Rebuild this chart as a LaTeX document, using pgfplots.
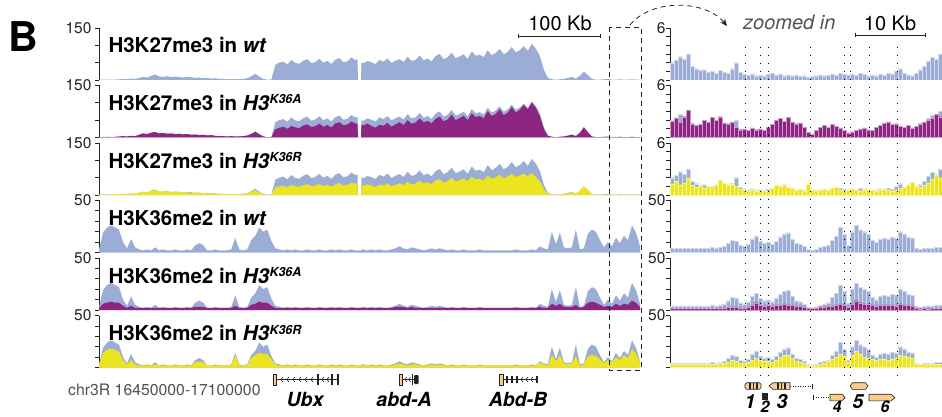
\documentclass[border=0pt]{standalone}
\usepackage{fontspec}
\setmainfont{TeX Gyre Heros}
\usepackage{pgfplots}
\usepackage{pgfplotstable}
\pgfplotsset{compat=1.18}
\usetikzlibrary{arrows.meta}
\definecolor{wtc}{RGB}{155,172,213}
\definecolor{kac}{RGB}{140,38,130}
\definecolor{krc}{RGB}{236,228,30}
\definecolor{genec}{RGB}{250,205,140}
\definecolor{axc}{RGB}{35,35,35}
\definecolor{txtgray}{RGB}{80,80,80}

% left: genomic tracks (x = position offset, a..c H3K27me3 wt/K36A/K36R, d..f H3K36me2 wt/K36A/K36R)
\pgfplotstableread{
x a b c d e f
0 1 1 1 3 2 3
4 1 1 1 19 6 14
8 1 2 1 24 7 17
12 1 1 2 26 8 18
16 1 2 2 24 7 17
20 2 3 3 22 7 15
24 3 4 4 10 4 7
28 2 3 3 4 2 3
32 4 5 4 13 4 7
36 3 4 4 5 2 3
40 6 8 7 3 2 2
44 9 12 10 2 2 2
48 7 10 8 3 2 2
52 12 14 12 2 2 2
56 16 16 14 5 2 3
60 10 12 10 2 2 2
64 9 13 11 3 2 2
68 11 11 9 2 2 2
72 8 12 10 2 2 2
76 10 10 8 3 2 2
80 9 11 9 2 2 2
84 7 9 7 2 2 2
88 9 10 8 3 2 2
92 8 8 6 2 2 2
96 6 9 7 7 3 5
100 7 7 5 9 3 6
104 5 8 6 7 3 5
108 6 6 4 2 2 2
112 4 7 5 2 2 2
116 5 5 4 3 2 2
120 3 4 3 2 2 2
124 3 4 3 2 2 2
128 2 3 2 2 2 2
132 3 4 3 3 2 2
136 2 3 2 14 4 12
140 3 3 3 3 2 2
144 3 4 3 2 2 2
148 5 6 5 3 2 2
152 11 10 9 12 5 9
156 18 16 14 16 6 12
160 10 9 8 24 8 14
164 3 3 2 20 7 13
168 1 1 1 22 7 13
172 1 1 1 11 4 8
176 44 24 22 4 2 3
180 50 28 25 3 2 2
184 53 31 27 2 2 2
188 45 25 22 3 2 2
192 58 33 29 2 2 2
196 49 29 25 3 2 2
200 47 27 24 2 2 2
204 56 35 28 2 2 2
208 60 38 31 3 2 2
212 48 30 25 2 2 2
216 52 33 27 2 2 2
220 61 40 32 3 2 2
224 50 31 26 2 2 2
228 55 36 29 2 2 2
232 46 29 24 3 2 2
236 59 41 31 2 2 2
240 63 44 34 3 2 2
244 51 35 27 2 2 2
248 54 38 29 2 2 2
252 65 46 35 3 2 2
256 57 40 33 2 2 2
258 60 41 34 2 2 2
258.5 0 0 0 2 2 2
261.5 0 0 0 2 2 2
262 50 37 29 3 2 2
264 48 35 27 3 2 2
268 55 40 31 2 2 2
272 51 33 27 3 2 2
276 46 28 23 2 2 2
280 58 37 30 3 2 2
284 53 34 27 2 2 2
288 62 42 33 2 2 2
292 49 31 25 3 2 2
296 56 38 29 4 3 3
300 60 44 34 6 3 4
304 52 36 28 4 3 3
308 67 50 38 3 2 2
312 55 40 30 5 3 3
316 58 43 33 4 2 3
320 71 55 41 3 2 2
324 57 44 33 2 2 2
328 62 48 37 3 2 2
332 54 41 31 4 2 3
336 69 54 42 3 2 2
340 75 60 46 4 2 3
344 60 47 36 3 2 2
348 66 52 40 2 2 2
352 79 66 50 3 2 2
356 63 50 38 2 2 2
360 68 56 43 2 2 2
364 74 63 48 3 2 2
368 61 50 39 2 2 2
372 82 70 53 2 2 2
376 70 59 45 2 2 2
380 73 62 47 3 2 2
384 66 55 42 2 2 2
388 86 76 56 2 2 2
392 72 62 47 2 2 2
396 78 68 51 2 2 2
400 90 82 59 2 2 2
404 74 64 48 2 2 2
408 81 72 53 2 2 2
412 95 88 61 2 2 2
416 80 72 52 3 2 2
420 86 80 56 2 2 2
424 98 94 62 2 2 2
428 84 82 54 2 2 2
432 104 101 63 3 2 2
436 90 86 52 2 2 2
440 70 62 40 6 3 5
444 30 25 18 4 2 3
448 6 5 4 3 2 2
452 2 2 2 20 6 12
456 1 1 1 8 4 6
460 2 2 2 19 6 12
464 3 3 3 5 3 4
468 6 5 5 4 3 3
472 9 8 8 5 3 4
476 4 4 4 22 5 11
480 12 14 12 3 2 2
484 24 30 26 4 3 3
488 14 15 13 18 7 11
492 3 3 3 22 8 12
496 1 1 1 20 7 11
500 1 1 1 12 5 8
504 2 2 1 5 3 4
508 3 2 2 10 4 7
512 1 1 1 6 3 5
516 1 1 1 14 6 10
520 2 2 1 9 4 7
524 1 1 1 16 6 12
528 1 1 1 12 5 9
532 2 2 1 26 9 18
536 1 1 1 19 7 13
540 1 1 1 6 3 5
}\leftdata

% right: zoomed-in bins
\pgfplotstableread{
x a b c d e f
0 2.0 1.9 1.3 4 1.5 3
4 2.3 2.2 1.6 4 1.5 3
8 2.7 1.8 1.2 4 1.8 3
12 2.4 2.4 1.4 4 1.6 3
16 3.0 3.2 1.9 4 1.5 3
20 1.6 1.6 1.1 4 1.7 3
24 1.3 1.4 0.9 4 1.5 3
28 1.1 1.5 1.0 4 1.6 3
32 1.2 2.0 0.8 4 1.5 3
36 0.9 1.8 1.0 4 1.8 3
40 1.0 2.3 0.9 5 1.6 3
44 0.8 2.0 1.2 4 1.5 3
48 1.1 2.4 1.7 5 2.0 4
52 0.9 1.7 1.4 6 2.0 4
56 0.8 1.6 1.2 9 2.5 5
60 1.3 1.8 1.3 12 3 7
64 2.0 1.2 1.0 11 3 6
68 0.9 0.9 0.7 7 2 4
72 0.7 1.0 0.6 6 2 4
76 0.6 0.8 0.5 8 3 5
80 0.7 1.1 0.6 13 5 7
84 0.5 0.9 0.5 16 7 9
88 0.6 1.0 0.4 11 5 7
92 0.5 0.8 0.5 9 4 6
96 0.7 1.2 0.4 10 5 6
100 0.8 1.5 0.8 8 4 5
104 0.6 2.0 1.1 11 5 7
108 0.7 2.2 1.0 15 5 10
112 0.5 1.9 1.2 18 6 12
116 0.6 2.3 0.9 19 5 12
120 0.5 1.8 0.8 13 5 9
124 0.6 1.6 0.6 9 4 6
128 0.4 1.7 0.7 8 4 5
132 0.5 1.2 0.5 6 3 4
136 0.3 0.6 1.3 3 1.5 2
140 0.4 0.4 0.6 2 1.5 1.5
144 0.5 0.8 0.5 3 2 2
148 0.6 1.2 0.6 5 3 3
152 0.5 1.4 0.7 6 3 4
156 0.6 1.2 0.6 7 4 6
160 0.7 1.5 0.8 12 4 8
164 0.6 1.3 0.9 16 5 10
168 0.8 1.1 0.6 24 6 13
172 0.7 0.8 0.5 18 5 11
176 0.6 0.5 0.6 7 3 5
180 0.7 0.6 0.7 20 6 12
184 0.6 0.8 0.6 26 9 16
188 0.8 1.0 0.5 22 7 13
192 0.7 1.1 0.6 20 6 10
196 0.5 0.9 0.7 18 6 9
200 0.6 0.8 0.6 12 5 8
204 0.5 1.2 0.5 10 4 7
208 0.7 1.4 0.6 13 5 8
212 0.6 1.7 0.7 14 5 8
216 0.8 1.8 0.6 13 5 7
220 0.7 1.5 0.5 15 5 8
224 1.0 1.6 0.6 14 4 9
228 1.3 1.3 0.8 20 6 12
232 0.8 1.2 0.9 18 5 11
236 0.6 1.4 1.2 15 5 10
240 0.5 1.1 1.5 14 4 9
244 0.8 1.3 1.0 4 1.5 3
248 1.2 1.6 0.9 3 1.3 3
252 1.6 1.8 1.1 4 1.5 3
256 2.2 2.0 1.4 4 1.3 3
260 2.6 2.2 1.8 4 1.5 3
264 2.4 2.7 2.3 5 1.5 3
268 3.0 2.4 2.0 5 1.5 3
272 3.2 2.4 2.0 5 1.5 3
}\rightdata

\pgfplotsset{
  track/.style={scale only axis, height=52pt, anchor=south west, enlargelimits=false,
    axis x line=none, axis y line*=left, tick align=outside, major tick length=4pt,
    axis line style={axc, line width=0.8pt}, tick style={axc, line width=0.8pt},
    yticklabel style={font=\fontsize{15.5}{16}\selectfont, text=axc},
    /pgf/number format/assume math mode=true, ymin=0},
  trackL/.style={track, width=541pt, xmin=0, xmax=540},
  trackR/.style={track, width=272pt, xmin=0, xmax=272,
    yticklabel style={xshift=3pt}},
  k27L/.style={trackL, ymax=150, ytick={0,50,100,150}, yticklabels={,,,150}},
  k36L/.style={trackL, ymax=50, ytick={0,10,20,30,40,50}, yticklabels={,,,,,50}},
  k27R/.style={trackR, ymax=6, ytick={0,1,2,3,4,5,6}, yticklabels={,,,,,,6}},
  k36R/.style={trackR, ymax=50, ytick={0,10,20,30,40,50}, yticklabels={,,,,,50}},
  barsR/.style={ybar interval, fill=#1, draw=#1!45!white, line width=0.15pt},
}
\newcommand{\titlefont}{\fontsize{20.5}{24}\selectfont\bfseries}
\newcommand{\mysup}[1]{\raisebox{6.5pt}{\fontsize{12.5}{13}\selectfont\bfseries\itshape #1}}
\newcommand{\genefont}{\fontsize{19.5}{20}\selectfont\bfseries\itshape}

\begin{document}
\begin{tikzpicture}[x=1pt,y=1pt]
\path[use as bounding box] (0,0) rectangle (942,416);

% ---------- left column ----------
\begin{axis}[k27L, at={(99pt,336pt)}]
  \addplot[fill=wtc, draw=none] table[x=x,y=a]{\leftdata} \closedcycle;
\end{axis}
\begin{axis}[k27L, at={(99pt,278.5pt)}]
  \addplot[fill=wtc, draw=none] table[x=x,y=a]{\leftdata} \closedcycle;
  \addplot[fill=kac, draw=none] table[x=x,y=b]{\leftdata} \closedcycle;
\end{axis}
\begin{axis}[k27L, at={(99pt,221pt)}]
  \addplot[fill=wtc, draw=none] table[x=x,y=a]{\leftdata} \closedcycle;
  \addplot[fill=krc, draw=none] table[x=x,y=c]{\leftdata} \closedcycle;
\end{axis}
\begin{axis}[k36L, at={(99pt,163.5pt)}]
  \addplot[fill=wtc, draw=none] table[x=x,y=d]{\leftdata} \closedcycle;
\end{axis}
\begin{axis}[k36L, at={(99pt,106pt)}]
  \addplot[fill=wtc, draw=none] table[x=x,y=d]{\leftdata} \closedcycle;
  \addplot[fill=kac, draw=none] table[x=x,y=e]{\leftdata} \closedcycle;
\end{axis}
\begin{axis}[k36L, at={(99pt,48.5pt)}]
  \addplot[fill=wtc, draw=none] table[x=x,y=d]{\leftdata} \closedcycle;
  \addplot[fill=krc, draw=none] table[x=x,y=f]{\leftdata} \closedcycle;
\end{axis}

% ---------- right column ----------
\begin{axis}[k27R, at={(670pt,336pt)}]
  \addplot[barsR=wtc] table[x=x,y=a]{\rightdata};
\end{axis}
\begin{axis}[k27R, at={(670pt,278.5pt)}]
  \addplot[barsR=wtc] table[x=x,y=a]{\rightdata};
  \addplot[barsR=kac] table[x=x,y=b]{\rightdata};
\end{axis}
\begin{axis}[k27R, at={(670pt,221pt)}]
  \addplot[barsR=wtc] table[x=x,y=a]{\rightdata};
  \addplot[barsR=krc] table[x=x,y=c]{\rightdata};
\end{axis}
\begin{axis}[k36R, at={(670pt,163.5pt)}]
  \addplot[barsR=wtc] table[x=x,y=d]{\rightdata};
\end{axis}
\begin{axis}[k36R, at={(670pt,106pt)}]
  \addplot[barsR=wtc] table[x=x,y=d]{\rightdata};
  \addplot[barsR=kac] table[x=x,y=e]{\rightdata};
\end{axis}
\begin{axis}[k36R, at={(670pt,48.5pt)}]
  \addplot[barsR=wtc] table[x=x,y=d]{\rightdata};
  \addplot[barsR=krc] table[x=x,y=f]{\rightdata};
\end{axis}

% ---------- titles ----------
\node[anchor=base west, font=\titlefont] at (105,363) {H3K27me3 in \textit{wt}};
\node[anchor=base west, font=\titlefont] at (105,305.5) {H3K27me3 in \textit{H3}\mysup{K36A}};
\node[anchor=base west, font=\titlefont] at (105,248) {H3K27me3 in \textit{H3}\mysup{K36R}};
\node[anchor=base west, font=\titlefont] at (105,190.5) {H3K36me2 in \textit{wt}};
\node[anchor=base west, font=\titlefont] at (105,133) {H3K36me2 in \textit{H3}\mysup{K36A}};
\node[anchor=base west, font=\titlefont] at (105,75.5) {H3K36me2 in \textit{H3}\mysup{K36R}};

\node[anchor=base west, font=\fontsize{41}{44}\selectfont\bfseries, inner sep=0pt] at (8,364) {B};

% scale bars
\node[anchor=base, font=\fontsize{20}{22}\selectfont, inner sep=0pt] at (560,385.5) {100 Kb};
\draw[axc, line width=0.8pt] (518,380) -- (600,380) (518,382) -- (518,377.5) (600,382) -- (600,377.5);
\node[anchor=base, font=\fontsize{20}{22}\selectfont, inner sep=0pt] at (890,385.5) {10 Kb};
\draw[axc, line width=0.8pt] (855,381) -- (925,381) (855,383) -- (855,378.5) (925,383) -- (925,378.5);
\node[anchor=base west, font=\fontsize{20}{22}\selectfont\itshape, text=txtgray, inner sep=0pt] at (743,386) {zoomed in};

% dashed box and arrow
\draw[axc, line width=0.8pt, dash pattern=on 5pt off 4pt] (609,389) rectangle (641,46);
\draw[axc, line width=0.8pt, dash pattern=on 5pt off 4pt, -{Stealth[length=7pt,width=6pt]}] (630,391) .. controls (652,418) and (706,416) .. (727,390);

% dotted gene boundaries in zoomed panel
\foreach \xx in {745,760,768,810,844,850,869,897}
  \draw[black, line width=1pt, dash pattern=on 1pt off 7pt] (\xx,369) -- (\xx,34);

% chromosome label
\node[anchor=base west, font=\fontsize{15.8}{17}\selectfont, text=txtgray, inner sep=0pt] at (68,21) {chr3R 16450000-17100000};

% ---------- left gene models ----------
% Ubx
\draw[axc, line width=0.6pt] (276,36.5) -- (339,36.5);
\foreach \cx in {281,287,293,299,305,311,322,327}
  \draw[axc, line width=0.6pt] (\cx+2,39) -- (\cx,36.5) -- (\cx+2,34);
\fill[axc] (316.8,31) rectangle (318.6,42);
\fill[axc] (330.8,31) rectangle (332.6,42);
\fill[axc] (337,31) rectangle (339,42);
\draw[axc, fill=genec, line width=0.6pt] (273,31) rectangle (276.5,42);
% abd-A
\draw[axc, line width=0.6pt] (402.5,36.5) -- (418,36.5);
\foreach \cx in {405,408.5}
  \draw[axc, line width=0.6pt] (\cx+2,39) -- (\cx,36.5) -- (\cx+2,34);
\fill[axc] (411.5,31) rectangle (413,42);
\fill[axc, rounded corners=1pt] (414,32) rectangle (418.5,41);
\draw[axc, fill=genec, line width=0.6pt] (399,31) rectangle (402.5,42);
% Abd-B
\draw[axc, line width=0.6pt] (503,36.5) -- (537,36.5);
\foreach \ex in {507,512,517}
  \fill[axc] (\ex-0.7,33) rectangle (\ex+0.7,40);
\foreach \cx in {521,526,531}
  \draw[axc, line width=0.6pt] (\cx+2,39) -- (\cx,36.5) -- (\cx+2,34);
\fill[axc] (536.3,33) rectangle (537.5,40);
\draw[axc, fill=genec, line width=0.6pt] (499,31) rectangle (503,42);

\node[anchor=base, font=\genefont, inner sep=0pt] at (305,9.3) {Ubx};
\node[anchor=base, font=\genefont, inner sep=0pt] at (404,9.3) {abd-A};
\node[anchor=base, font=\genefont, inner sep=0pt] at (518,9.3) {Abd-B};

% ---------- right gene models ----------
\draw[axc, fill=genec, rounded corners=1.5pt, line width=0.6pt] (745,26.7) rectangle (761,33.3);
\fill[axc] (749.3,26.7) rectangle (750.8,33.3);
\fill[axc] (752.8,26.7) rectangle (754.3,33.3);
\fill[axc] (756.3,26.7) rectangle (757.8,33.3);
\draw[axc, fill=genec, line width=0.6pt] (769,30) -- (773,33.3) -- (790,33.3) -- (790,26.7) -- (773,26.7) -- cycle;
\fill[axc] (777,26.7) rectangle (778.5,33.3);
\fill[axc] (780.5,26.7) rectangle (782,33.3);
\fill[axc] (784,26.7) rectangle (785.5,33.3);
\draw[axc, line width=0.8pt, dash pattern=on 1pt off 1.5pt] (790,30) -- (812,30);
\draw[axc, line width=0.8pt] (812,27.5) -- (812,32.5);
\draw[axc, fill=genec, line width=0.6pt] (850,30) -- (852.5,33.3) -- (865.5,33.3) -- (868,30) -- (865.5,26.7) -- (852.5,26.7) -- cycle;
\fill[axc] (761.5,16) rectangle (767.5,23);
\draw[axc, line width=0.8pt, dash pattern=on 1pt off 1.5pt] (813,18.5) -- (830,18.5);
\draw[axc, line width=0.8pt] (813,16) -- (813,21);
\draw[axc, fill=genec, line width=0.6pt] (830,15.2) -- (842,15.2) -- (845,18.5) -- (842,21.8) -- (830,21.8) -- cycle;
\draw[axc, fill=genec, line width=0.6pt] (869,15.2) -- (891,15.2) -- (895,18.5) -- (891,21.8) -- (869,21.8) -- cycle;

\node[font=\genefont] at (750,14.5) {1};
\node[font=\genefont] at (782,14.5) {3};
\node[font=\genefont] at (858,14.5) {5};
\node[font=\fontsize{16}{17}\selectfont\bfseries\itshape, inner sep=0pt] at (765,9.5) {2};
\node[font=\fontsize{16}{17}\selectfont\bfseries\itshape, inner sep=0pt] at (837,9.5) {4};
\node[font=\fontsize{16}{17}\selectfont\bfseries\itshape, inner sep=0pt] at (885,9.5) {6};
\end{tikzpicture}
\end{document}
